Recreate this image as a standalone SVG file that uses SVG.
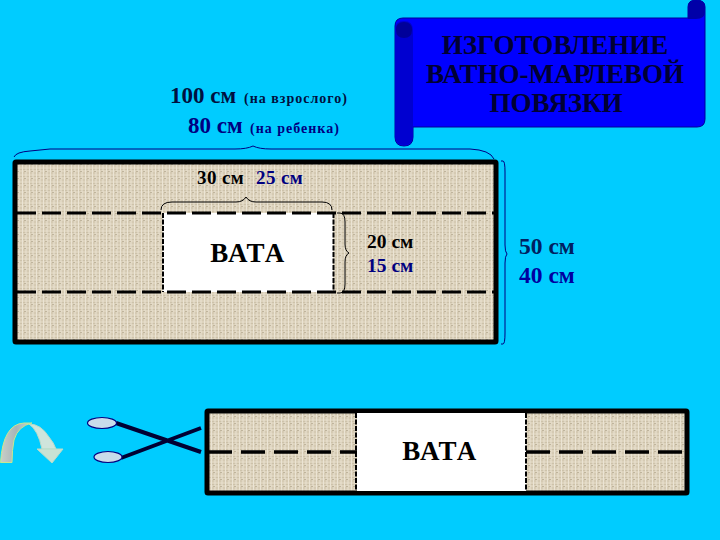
<svg xmlns="http://www.w3.org/2000/svg" width="720" height="540" viewBox="0 0 720 540">
<style>
.t{font-family:"Liberation Serif","Times New Roman",serif;font-weight:bold;fill:#000}
.n{fill:#000080}
.s{font-size:14px;letter-spacing:1px}
.w{letter-spacing:.4px}
.b{fill:none;stroke:#000;stroke-width:1}
.bl{fill:none;stroke:#000080;stroke-width:1}
.d{fill:none;stroke:#000;stroke-width:3;stroke-dasharray:19 6}
.d2{fill:none;stroke:#000;stroke-width:3.5;stroke-dasharray:24 9}
.v{fill:none;stroke:#000;stroke-width:2;stroke-dasharray:5 1.5}
.e{fill:#C9DCEA;stroke:#000080;stroke-width:1.2}
</style>
<defs>
<pattern id="linen" width="7" height="7" patternUnits="userSpaceOnUse">
<rect width="7" height="7" fill="#DDD3BD"/>
<path d="M0 1.5H7M0 5H7" stroke="#CDC2AA" stroke-width="1"/>
<path d="M1.5 0V7M5 0V7" stroke="#EBE4D4" stroke-width="1"/>
<path d="M3 3.5H5" stroke="#BFB49C" stroke-width="1"/>
</pattern>
<linearGradient id="arc" x1="0" x2="1" y1="0" y2="0">
<stop offset="0" stop-color="#C8CFC8"/><stop offset=".5" stop-color="#A8B4B8"/><stop offset="1" stop-color="#C4D4D4"/>
</linearGradient>
</defs>
<rect width="720" height="540" fill="#00CCFF"/>

<g id="banner">
<path d="M395 26Q395 18 403 18H688V7Q688 0 696 0Q705 0 705 7V119Q705 127 697 127H413V137Q413 146 404 146Q395 146 395 137Z" fill="#0000FF" stroke="#000099" stroke-width="1"/>
<path d="M395 30Q395 21 404 21Q413 21 413 30V135Q413 145 404 145Q395 145 395 135Z" fill="#0000D0"/>
<path d="M396 30Q396 22 404 22Q412 22 412 30Q412 38 404 38Q396 38 396 30Z" fill="#000099"/>
<path d="M688 19V7Q688 0 696 0Q705 0 705 7V12Q705 19 696 19Z" fill="#0000A8"/>
<text class="t" font-size="27" text-anchor="middle" x="555" y="54" style="fill:#000033">ИЗГОТОВЛЕНИЕ</text>
<text class="t" font-size="27" text-anchor="middle" x="555" y="83" style="fill:#000033">ВАТНО-МАРЛЕВОЙ</text>
<text class="t" font-size="27" text-anchor="middle" x="556" y="112" style="fill:#000033">ПОВЯЗКИ</text>
</g>

<g id="size-label">
<text class="t" x="170" y="103" font-size="23" style="fill:#001040">100 см</text>
<text class="t s" x="244" y="103" style="fill:#001040">(на взрослого)</text>
<text class="t n" x="188" y="133" font-size="23">80 см</text>
<text class="t s n" x="250" y="133">(на ребенка)</text>
</g>

<g id="fabric-top">
<rect x="15" y="162" width="481" height="180" rx="1" fill="url(#linen)" stroke="#000" stroke-width="5"/>
<rect x="163" y="213" width="170" height="79" fill="#fff"/>
<path class="d" d="M17 213H494M17 292H494"/>
<path class="v" d="M163 213V292M333.500 213V292"/>
<text class="t w" font-size="19" x="197" y="184">30 см</text>
<text class="t n w" font-size="19" x="256" y="184">25 см</text>
<text class="t" x="248" y="262" text-anchor="middle" font-size="27" letter-spacing="1.500">ВАТА</text>
<text class="t" font-size="19.500" x="367" y="248">20 см</text>
<text class="t n" font-size="19.500" x="367" y="272">15 см</text>
</g>

<g id="fabric-bottom">
<rect x="207" y="411" width="480" height="82" rx="1" fill="url(#linen)" stroke="#000" stroke-width="5"/>
<rect x="357" y="413" width="169" height="78" fill="#fff"/>
<path class="d2" d="M208 452H357M526 452H685"/>
<path class="v" d="M356 413V491M526 413V491"/>
<text class="t" x="440" y="460" text-anchor="middle" font-size="27" letter-spacing="1.500">ВАТА</text>
</g>

<g id="connectors">
<path class="bl" d="M14 157Q16 152 30 151L50 149H235Q247 149 253 146Q259 149 271 149H470Q490 150 494 159"/>
<path class="b" d="M161 210Q161 202 172 202H236Q243 202 246 197Q249 202 256 202H322Q332 202 332 210"/>
<path class="b" d="M337 213H340Q345 213 345 222V244Q345 251 349 253Q345 255 345 262V284Q345 293 340 293H337"/>
<path class="bl" d="M501 161H503Q505 161 505 172V245Q505 252 507 254Q505 256 505 263V333Q505 344 503 344H501"/>
</g>

<g id="size-right">
<text class="t" font-size="23.500" x="519" y="254" style="fill:#002060">50 см</text>
<text class="t" font-size="23.500" x="519" y="283" style="fill:#0000A0">40 см</text>
</g>

<g id="scissors">
<path d="M116 423L201 452M121 458L201 428" fill="none" stroke="#000033" stroke-width="4"/>
<ellipse class="e" cx="102" cy="423" rx="14.500" ry="5.500"/>
<ellipse class="e" cx="108" cy="457" rx="14" ry="5.500"/>
</g>

<g id="curved-arrow">
<path d="M42 449Q38 430 29 424Q41 424 49 437Q54 443 56 449Z" fill="#CFE5DC" stroke="#B8DCC8" stroke-width="1"/>
<path d="M37 449H63L52 463Z" fill="#C8E2D4" stroke="#B8DCC8" stroke-width="1"/>
<path d="M0.500 462.500Q3 424 24 423H32Q18 426 14 440Q12 450 12 462.500Z" fill="url(#arc)" stroke="#C8E890" stroke-width="1"/>
</g>
</svg>
